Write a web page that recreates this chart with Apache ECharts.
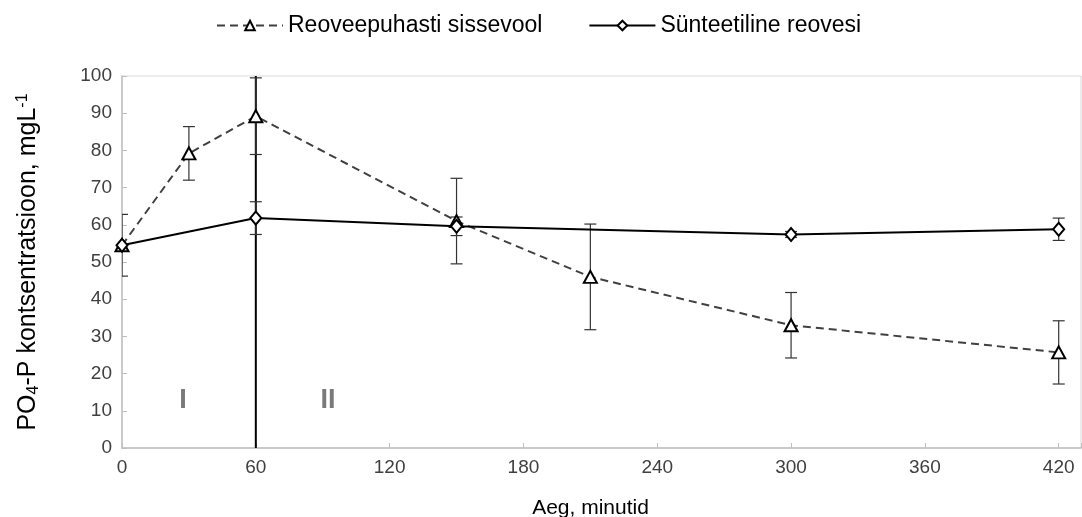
<!DOCTYPE html>
<html>
<head>
<meta charset="utf-8">
<script src="https://cdn.jsdelivr.net/npm/echarts@6/dist/echarts.min.js"></script>
<style>html,body{margin:0;padding:0;background:#fff;overflow:hidden}#c{width:1082px;height:517px}</style>
</head>
<body>
<div id="c"></div>
<script>
// ---- data ----
var seriesNames = ['Reoveepuhasti sissevool', 'Sünteetiline reovesi'];
var inflowX = [0, 30, 60, 150, 210, 300, 420];
var inflowY = [54.5, 79.2, 89.2, 61, 46, 33, 25.7];
var inflowErr = [0, 7.2, 10.3, 11.5, 14.2, 8.8, 8.5];
var synthX = [0, 60, 150, 300, 420];
var synthY = [54.5, 61.8, 59.6, 57.4, 58.8];
var synthErr = [8.3, 4.4, 2.5, 0.8, 3];
var dividerX = [60, 60];
var dividerY = [0, 100];
var phaseLabels = ['I', 'II'];
var phaseX = [27.4, 92.4];
var phaseY = [12.8, 12.8];
var xTicks = [0, 60, 120, 180, 240, 300, 360, 420];

function pairs(xs, ys) { return xs.map(function (x, i) { return [x, ys[i]]; }); }
function errData(xs, ys, es) { return xs.map(function (x, i) { return [x, ys[i] - es[i], ys[i] + es[i]]; }); }

function errRender(params, api) {
  var x = api.value(0);
  var lo = api.coord([x, api.value(1)]);
  var hi = api.coord([x, api.value(2)]);
  var hw = 6;
  var st = { stroke: '#333', lineWidth: 1.2, fill: null };
  var cs = params.coordSys;
  return {
    type: 'group',
    clipPath: { type: 'rect', shape: { x: cs.x, y: cs.y - 2, width: cs.width, height: cs.height + 4 } },
    children: [
      { type: 'line', shape: { x1: lo[0], y1: lo[1], x2: hi[0], y2: hi[1] }, style: st },
      { type: 'line', shape: { x1: lo[0] - hw, y1: lo[1], x2: lo[0] + hw, y2: lo[1] }, style: st },
      { type: 'line', shape: { x1: hi[0] - hw, y1: hi[1], x2: hi[0] + hw, y2: hi[1] }, style: st }
    ]
  };
}

var chart = echarts.init(document.getElementById('c'), null, { renderer: 'canvas' });
chart.setOption({
  animation: false,
  backgroundColor: '#fff',
  textStyle: { fontFamily: 'Liberation Sans, Arial, sans-serif' },
  legend: {
    top: 9,
    left: 211,
    itemGap: 46,
    itemWidth: 66,
    itemHeight: 12,
    data: seriesNames,
    textStyle: { fontSize: 23, color: '#000', fontFamily: 'Liberation Sans, Arial, sans-serif' }
  },
  grid: {
    left: 122, right: 1, top: 76, bottom: 69,
    outerBoundsMode: 'none', containLabel: false,
    show: true, borderColor: '#d9d9d9', borderWidth: 1
  },
  xAxis: {
    type: 'value', min: 0, max: 430, interval: 60,
    name: 'Aeg, minutid', nameLocation: 'middle', nameGap: 50,
    nameTextStyle: { fontSize: 21, color: '#000', padding: [0, 22, 0, 0] },
    axisLine: { show: true, lineStyle: { color: '#bfbfbf', width: 1.5 } },
    axisTick: { show: true, inside: true, length: 5, lineStyle: { color: '#bfbfbf' } },
    axisLabel: {
      fontSize: 19, color: '#404040', margin: 10,
      formatter: function (v) { return xTicks.indexOf(v) >= 0 ? String(v) : ''; }
    },
    splitLine: { show: false }
  },
  yAxis: {
    type: 'value', min: 0, max: 100, interval: 10,
    name: 'PO{sub|4}-P kontsentratsioon, mgL{sup|-1}',
    nameLocation: 'middle', nameGap: 80, nameRotate: 90,
    nameTextStyle: {
      fontSize: 25, color: '#000',
      rich: {
        sub: { fontSize: 16, verticalAlign: 'bottom', padding: [11, 0, 0, 0], color: '#000' },
        sup: { fontSize: 16, verticalAlign: 'top', padding: [0, 0, 11, 0], color: '#000' }
      }
    },
    axisLine: { show: true, lineStyle: { color: '#bfbfbf', width: 1.5 } },
    axisTick: { show: true, inside: true, length: 5, lineStyle: { color: '#bfbfbf' } },
    axisLabel: { fontSize: 19, color: '#404040', margin: 10 },
    splitLine: { show: false }
  },
  series: [
    {
      name: 'divider', type: 'line', data: pairs(dividerX, dividerY),
      symbol: 'none', silent: true, z: 1,
      lineStyle: { color: '#000', width: 2 }
    },
    {
      name: 'phases', type: 'scatter', data: pairs(phaseX, phaseY),
      symbolSize: 0, silent: true,
      label: {
        show: true, position: 'inside',
        formatter: function (p) { return phaseLabels[p.dataIndex]; },
        fontSize: 27, fontWeight: 'bold', color: '#595959'
      }
    },
    {
      name: 'errInflow', type: 'custom', data: errData(inflowX, inflowY, inflowErr),
      renderItem: errRender, silent: true, z: 2
    },
    {
      name: 'errSynth', type: 'custom', data: errData(synthX, synthY, synthErr),
      renderItem: errRender, silent: true, z: 2
    },
    {
      name: seriesNames[0], type: 'line', data: pairs(inflowX, inflowY),
      symbol: 'triangle', symbolSize: [13, 12], showAllSymbol: true, z: 3,
      lineStyle: { color: '#404040', width: 2, type: [8, 5] },
      itemStyle: { color: '#fff', borderColor: '#000', borderWidth: 2 }
    },
    {
      name: seriesNames[1], type: 'line', data: pairs(synthX, synthY),
      symbol: 'diamond', symbolSize: [11, 13], showAllSymbol: true, z: 4,
      lineStyle: { color: '#000', width: 2 },
      itemStyle: { color: '#fff', borderColor: '#000', borderWidth: 2 }
    }
  ]
});
</script>
</body>
</html>
